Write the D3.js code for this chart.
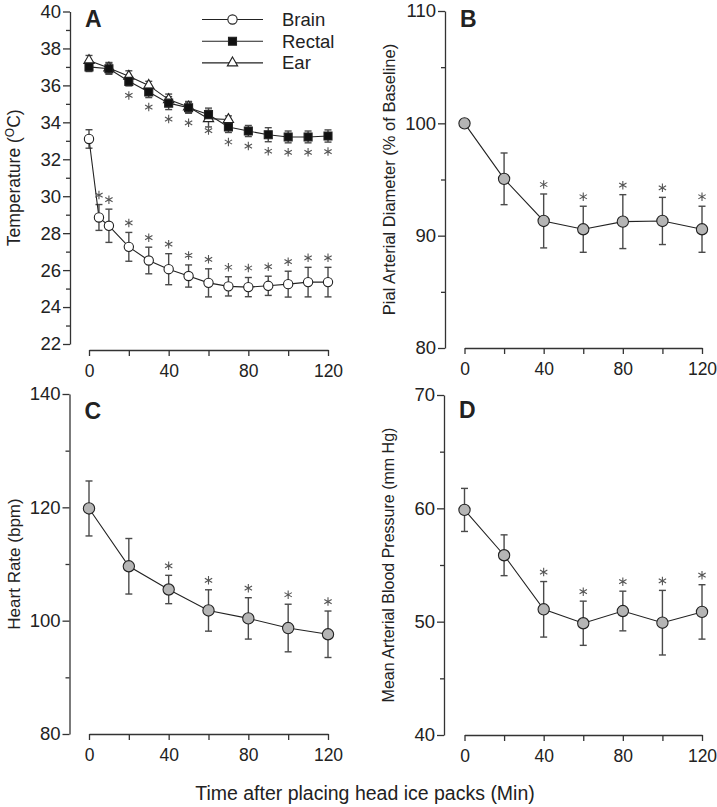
<!DOCTYPE html>
<html><head><meta charset="utf-8">
<script src="https://cdn.jsdelivr.net/npm/d3@7"></script>
<style>
body{margin:0;background:#fff}
svg{display:block}
text{font-family:Arial,"Liberation Sans",sans-serif;fill:#222}
</style>
</head><body>
<svg id="chart" width="717" height="807"></svg>
<script>
// ---------- data ----------
const brainTime  = [0,5,10,20,30,40,50,60,70,80,90,100,110,120];
const brainTemp  = [33.1,28.85,28.4,27.26,26.52,26.05,25.68,25.31,25.12,25.08,25.15,25.24,25.35,25.35];
const brainErr   = [0.5,0.7,0.9,0.78,0.72,0.84,0.6,0.76,0.52,0.52,0.52,0.7,0.8,0.8];
const brainStar  = [0,1,1,1,1,1,1,1,1,1,1,1,1,1];

const rectalTime = [0,10,20,30,40,50,60,70,80,90,100,110,120];
const rectalTemp = [37.0,36.9,36.22,35.64,35.04,34.79,34.42,33.75,33.53,33.33,33.21,33.21,33.26];
const rectalErr  = [0.25,0.3,0.25,0.3,0.35,0.3,0.35,0.3,0.3,0.38,0.32,0.32,0.33];
const rectalStar = [0,0,1,1,1,1,1,1,1,1,1,1,1];

const earTime    = [0,10,20,30,40,50,60,70];
const earTemp    = [37.35,36.94,36.49,36.0,35.23,34.83,34.2,34.15];
const earErr     = [0.27,0.3,0.3,0.22,0.3,0.3,0.45,0.2];

const time20     = [0,20,40,60,80,100,120];
const pialDiam   = [100,95.06,91.31,90.57,91.25,91.31,90.57];
const pialErr    = [0,2.3,2.4,2.05,2.4,2.1,2.05];
const heartRate  = [119.8,109.6,105.5,101.8,100.4,98.7,97.6];
const heartErr   = [4.85,4.9,2.5,3.65,3.65,4.2,4.1];
const mabp       = [59.86,55.86,51.09,49.86,50.94,49.91,50.86];
const mabpErr    = [1.9,1.8,2.45,1.95,1.75,2.85,2.4];
const star20     = [0,0,1,1,1,1,1];

const xTicks      = [0,20,40,60,80,100,120];
const xTickLabels = [0,40,80,120];
const legendNames = ["Brain","Rectal","Ear"];

// ---------- drawing ----------
const svg = d3.select("#chart");
const AXIS = "#333", LINE = "#222", ERR = "#4a4a4a", STAR = "#555", GRAY = "#b5b5b5";

// six-armed asterisk symbol
const symbolAsterisk = {
  draw(ctx, size){
    const r = Math.sqrt(size)/2;
    for(let k=0;k<3;k++){
      const a = Math.PI/2 + k*Math.PI/3;
      ctx.moveTo(r*Math.cos(a), -r*Math.sin(a));
      ctx.lineTo(-r*Math.cos(a), r*Math.sin(a));
    }
  }
};

function panel(cfg){
  const x = d3.scaleLinear().domain([0,120]).range(cfg.xr);
  const y = d3.scaleLinear().domain(cfg.yd).range(cfg.yr);
  const g = svg.append("g");

  const major = d3.range(cfg.yd[0], cfg.yd[1] + 1e-9, cfg.major);
  const minor = d3.range(cfg.yd[0] + cfg.major/2, cfg.yd[1], cfg.major);
  const ya = g.append("g").attr("transform",`translate(${cfg.ax},0)`)
    .call(d3.axisLeft(y).tickValues(major).tickSize(7).tickSizeOuter(0).tickPadding(2).tickFormat(d3.format("d")));
  const ym = g.append("g").attr("transform",`translate(${cfg.ax},0)`)
    .call(d3.axisLeft(y).tickValues(minor).tickSize(4).tickSizeOuter(0).tickFormat(""));
  ym.select(".domain").remove();
  const xa = g.append("g").attr("transform",`translate(0,${cfg.xy})`)
    .call(d3.axisBottom(x).tickValues(xTicks).tickSize(6).tickSizeOuter(0).tickPadding(9)
      .tickFormat(d => xTickLabels.includes(d) ? d : ""));
  [ya,ym,xa].forEach(a=>{
    a.selectAll("path,line").attr("stroke",AXIS).attr("stroke-width",1.3);
    a.selectAll("text").attr("font-size",18.5).attr("fill","#222").attr("font-family","Arial, 'Liberation Sans', sans-serif");
  });
  xa.selectAll("text").attr("font-size",17.5);

  g.append("text").attr("x",cfg.ax+15).attr("y",cfg.letterY).attr("font-size",23)
    .attr("font-weight","bold").attr("fill","#1a1a1a").text(cfg.letter);

  const t = g.append("text").attr("transform",`translate(${cfg.ax-50},${(cfg.yr[0]+cfg.yr[1])/2}) rotate(-90)`)
    .attr("text-anchor","middle").attr("font-size",cfg.titleSize);
  cfg.title(t);

  cfg.series.forEach(s=>{
    const pts = s.t.map((tt,i)=>({t:tt,v:s.v[i],e:s.e[i],star:s.star?s.star[i]:0}));
    const eb = g.append("g").attr("stroke",ERR).attr("stroke-width",1.4).attr("fill","none");
    pts.filter(p=>p.e>0).forEach(p=>{
      const px = x(p.t);
      eb.append("line").attr("x1",px).attr("x2",px).attr("y1",y(p.v+p.e)).attr("y2",y(p.v-p.e));
      eb.append("line").attr("x1",px-3.5).attr("x2",px+3.5).attr("y1",y(p.v+p.e)).attr("y2",y(p.v+p.e));
      eb.append("line").attr("x1",px-3.5).attr("x2",px+3.5).attr("y1",y(p.v-p.e)).attr("y2",y(p.v-p.e));
    });
    s.pts = pts;
  });
  cfg.series.forEach(s=>{
    g.append("path").datum(s.pts)
      .attr("d",d3.line().x(p=>x(p.t)).y(p=>y(p.v)))
      .attr("fill","none").attr("stroke",LINE).attr("stroke-width",1.1);
  });
  cfg.series.forEach(s=>{
    s.pts.forEach(p=>{
      g.append("path")
        .attr("transform",`translate(${x(p.t)},${y(p.v)})`)
        .attr("d",d3.symbol().type(s.shape).size(s.size)())
        .attr("fill",s.fill).attr("stroke","#222").attr("stroke-width",1.1);
      if(p.star){
        const cy = s.starBelow ? y(p.v-p.e)+9.5 : y(p.v+p.e)-9.5;
        g.append("path").attr("transform",`translate(${x(p.t)},${cy})`)
          .attr("d",d3.symbol().type(symbolAsterisk).size(72)())
          .attr("fill","none").attr("stroke",STAR).attr("stroke-width",1.1);
      }
    });
  });
  return {x,y,g};
}

// Panel A
const pA = panel({
  letter:"A", letterY:27, ax:70, xr:[89,328], xy:350, yd:[22,40], yr:[344,11.5], major:2, titleSize:17.5,
  title:t=>{ t.append("tspan").text("Temperature (");
             t.append("tspan").attr("dy",-6).attr("font-size",12).text("O");
             t.append("tspan").attr("dy",6).text("C)"); },
  series:[
    {t:earTime,v:earTemp,e:earErr,shape:d3.symbolTriangle,size:46,fill:"#fff"},
    {t:rectalTime,v:rectalTemp,e:rectalErr,star:rectalStar,starBelow:true,shape:d3.symbolSquare,size:64,fill:"#111"},
    {t:brainTime,v:brainTemp,e:brainErr,star:brainStar,shape:d3.symbolCircle,size:68,fill:"#fff"}
  ]
});
const legShapes = [d3.symbolCircle,d3.symbolSquare,d3.symbolTriangle];
const legFill = ["#fff","#111","#fff"];
const legSize = [68,64,46];
legendNames.forEach((n,i)=>{
  const ly = 19.5 + i*21.7;
  pA.g.append("line").attr("x1",202).attr("x2",263).attr("y1",ly).attr("y2",ly).attr("stroke",LINE).attr("stroke-width",1.1);
  pA.g.append("path").attr("transform",`translate(232.5,${ly})`).attr("d",d3.symbol().type(legShapes[i]).size(legSize[i])())
    .attr("fill",legFill[i]).attr("stroke","#222").attr("stroke-width",1.1);
  pA.g.append("text").attr("x",282).attr("y",ly).attr("dy","0.35em").attr("font-size",18.5).text(n);
});

// Panel B
panel({
  letter:"B", letterY:27, ax:445, xr:[464.5,702], xy:348, yd:[80,110], yr:[348,11], major:10, titleSize:16.5,
  title:t=>t.text("Pial Arterial Diameter (% of Baseline)"),
  series:[{t:time20,v:pialDiam,e:pialErr,star:star20,shape:d3.symbolCircle,size:100,fill:GRAY}]
});
// Panel C
panel({
  letter:"C", letterY:419, ax:69.5, xr:[89,328], xy:734, yd:[80,140], yr:[734,394], major:20, titleSize:17,
  title:t=>t.text("Heart Rate (bpm)"),
  series:[{t:time20,v:heartRate,e:heartErr,star:star20,shape:d3.symbolCircle,size:100,fill:GRAY}]
});
// Panel D
panel({
  letter:"D", letterY:418, ax:444, xr:[464.5,702], xy:735, yd:[40,70], yr:[735,395], major:10, titleSize:16,
  title:t=>t.text("Mean Arterial Blood Pressure (mm Hg)"),
  series:[{t:time20,v:mabp,e:mabpErr,star:star20,shape:d3.symbolCircle,size:100,fill:GRAY}]
});

svg.append("text").attr("x",365).attr("y",800).attr("text-anchor","middle").attr("font-size",19.5)
  .text("Time after placing head ice packs (Min)");
</script>
</body></html>
